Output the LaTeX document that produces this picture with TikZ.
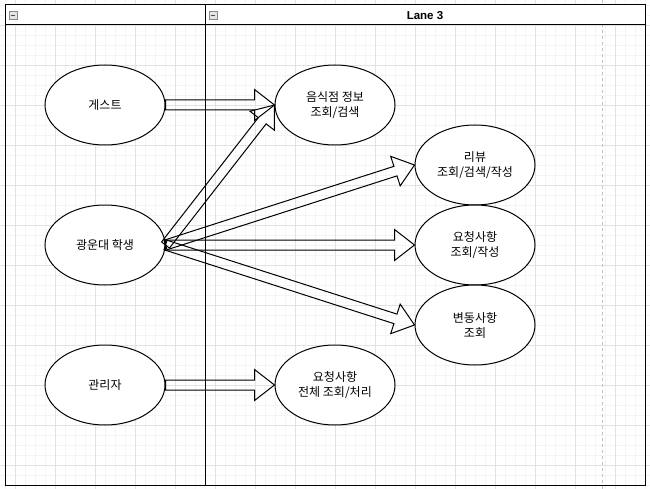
\documentclass[tikz,border=0pt]{standalone}
\usepackage{fontspec}
\setmainfont{Liberation Sans}
\newfontfamily\krfont{Noto Sans CJK KR}
\usetikzlibrary{calc,shapes.geometric}

\definecolor{gridminor}{HTML}{F4F4F4}
\definecolor{gridmajor}{HTML}{E2E2E2}
\definecolor{pagebreak}{HTML}{C0C0C0}
\definecolor{iconfill}{HTML}{E4E4E4}
\definecolor{iconedge}{HTML}{8A8A8A}

% block ("flex") arrow from the east side of one node to the west side of another
\newcommand\flexarrow[2]{%
  \coordinate (fa-s) at (#1.east);
  \coordinate (fa-t) at (#2.west);
  \coordinate (fa-h) at ($(fa-t)!20pt!(fa-s)$);
  \draw[blockarrow]
    ($(fa-s)!5pt!90:(fa-t)$) -- ($(fa-h)!5pt!90:(fa-t)$) --
    ($(fa-h)!15.5pt!90:(fa-t)$) -- (fa-t) --
    ($(fa-h)!15.5pt!-90:(fa-t)$) -- ($(fa-h)!5pt!-90:(fa-t)$) --
    ($(fa-s)!5pt!-90:(fa-t)$) -- cycle;
}

\begin{document}
\begin{tikzpicture}[x=1pt,y=-1pt,
  usecase/.style={draw=black, line width=1pt, fill=white, ellipse,
    minimum width=120pt, minimum height=80pt, inner sep=0pt, align=center,
    font=\krfont\fontsize{12}{15}\selectfont},
  blockarrow/.style={draw=black, line width=1pt, line join=miter},
  frame/.style={draw=black, line width=1pt},
  collapse/.style={draw=iconedge, fill=iconfill, line width=0.6pt}]

\useasboundingbox (0,0) rectangle (650,489);
\fill[white] (0,0) rectangle (650,489);

% background grid
\foreach \x in {5,15,...,645} \draw[gridminor, line width=0.8pt] (\x,0) -- (\x,489);
\foreach \y in {5,15,...,485} \draw[gridminor, line width=0.8pt] (0,\y) -- (650,\y);
\foreach \x in {15,55,...,645} \draw[gridmajor, line width=0.8pt] (\x,0) -- (\x,489);
\foreach \y in {25,65,...,485} \draw[gridmajor, line width=0.8pt] (0,\y) -- (650,\y);

% page break
\draw[pagebreak, dashed, dash pattern=on 3pt off 3pt, line width=0.8pt] (602.5,0) -- (602.5,489);

% pool with two lanes
\fill[white] (5,5) rectangle (645,25);
\draw[frame] (5,5) rectangle (645,485);
\draw[frame] (5,25) -- (645,25);
\draw[frame] (205,5) -- (205,485);
\node[font=\bfseries\fontsize{11.5}{13}\selectfont] (lanetitle) at (425,15.5) {Lane 3};

% collapse buttons
\foreach \ix/\nm in {9/collapseA,209/collapseB}{
  \draw[collapse] (\ix,11) rectangle ++(8,8);
  \draw[black!70, line width=0.8pt] (\ix+2,15) -- (\ix+6,15);
}

% actors
\node[usecase] (guest)   at (105,105) {게스트};
\node[usecase] (student) at (105,245) {광운대 학생};
\node[usecase] (admin)   at (105,385) {관리자};

% use cases
\node[usecase] (restaurant) at (335,105) {음식점 정보\\조회/검색};
\node[usecase] (review)     at (475,165) {리뷰\\조회/검색/작성};
\node[usecase] (request)    at (475,245) {요청사항\\조회/작성};
\node[usecase] (changes)    at (475,325) {변동사항\\조회};
\node[usecase] (allreq)     at (335,385) {요청사항\\전체 조회/처리};

% associations
\flexarrow{guest}{restaurant}
\flexarrow{student}{restaurant}
\flexarrow{student}{review}
\flexarrow{student}{request}
\flexarrow{student}{changes}
\flexarrow{admin}{allreq}
\end{tikzpicture}
\end{document}
